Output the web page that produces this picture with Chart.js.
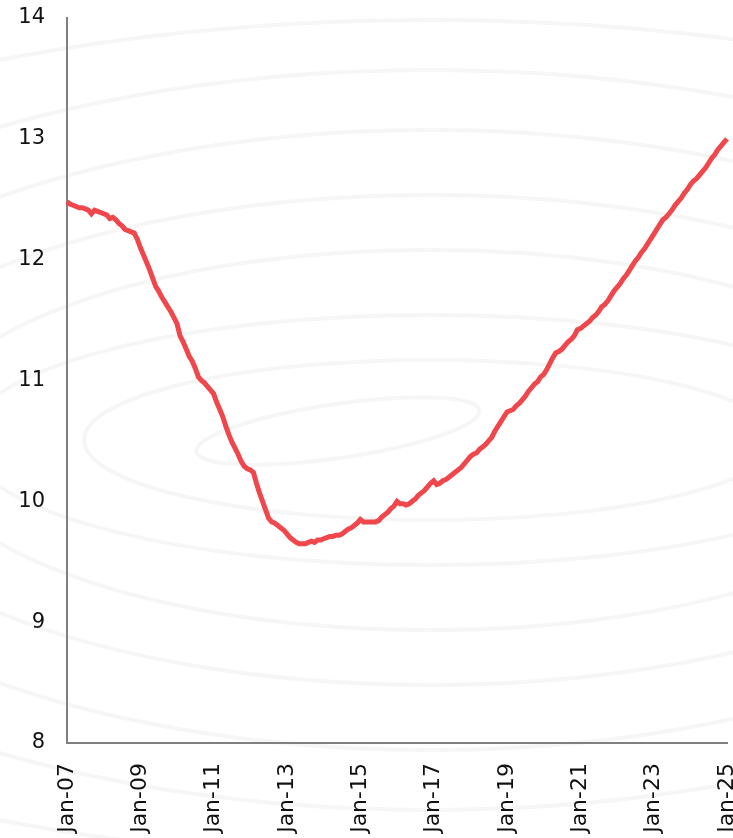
<!DOCTYPE html>
<html>
<head>
<meta charset="utf-8">
<script src="https://cdn.jsdelivr.net/npm/chart.js@4.4.1/dist/chart.umd.min.js"></script>
<style>
  html, body { margin: 0; padding: 0; background: #fff; }
  #wrap { width: 733px; height: 838px; position: relative; }
</style>
</head>
<body>
<div id="wrap"><canvas id="chart"></canvas></div>
<script>
// monthly series, Jan-07 .. Jan-25
var startYear = 2007;
var endYear = 2025;
var values = [
  12.48, 12.46, 12.45, 12.44, 12.43, 12.43, 12.42, 12.41, 12.38, 12.41, 12.40, 12.39,
  12.38, 12.37, 12.34, 12.35, 12.33, 12.30, 12.28, 12.25, 12.24, 12.23, 12.22, 12.17,
  12.10, 12.04, 11.98, 11.92, 11.85, 11.78, 11.74, 11.69, 11.65, 11.61, 11.57, 11.52,
  11.47, 11.37, 11.32, 11.26, 11.20, 11.16, 11.10, 11.03, 11.00, 10.98, 10.95, 10.92,
  10.89, 10.82, 10.76, 10.70, 10.62, 10.55, 10.49, 10.44, 10.39, 10.33, 10.29, 10.27,
  10.26, 10.24, 10.15, 10.07, 10.00, 9.93, 9.86, 9.83, 9.82, 9.80, 9.78, 9.76,
  9.73, 9.70, 9.68, 9.66, 9.65, 9.65, 9.65, 9.66, 9.67, 9.66, 9.68, 9.68,
  9.69, 9.70, 9.71, 9.71, 9.72, 9.72, 9.73, 9.75, 9.77, 9.78, 9.80, 9.82,
  9.85, 9.83, 9.83, 9.83, 9.83, 9.83, 9.84, 9.87, 9.89, 9.91, 9.94, 9.96,
  10.00, 9.98, 9.98, 9.97, 9.98, 10.00, 10.02, 10.05, 10.07, 10.09, 10.12, 10.15,
  10.17, 10.14, 10.15, 10.17, 10.18, 10.20, 10.22, 10.24, 10.26, 10.28, 10.31, 10.34,
  10.37, 10.39, 10.40, 10.43, 10.45, 10.47, 10.50, 10.53, 10.58, 10.62, 10.66, 10.70,
  10.74, 10.75, 10.76, 10.79, 10.81, 10.84, 10.87, 10.91, 10.94, 10.97, 10.99, 11.03,
  11.05, 11.09, 11.14, 11.19, 11.23, 11.24, 11.26, 11.29, 11.32, 11.34, 11.37, 11.42,
  11.43, 11.45, 11.47, 11.49, 11.52, 11.54, 11.57, 11.61, 11.63, 11.66, 11.70, 11.74,
  11.77, 11.80, 11.84, 11.87, 11.91, 11.95, 11.99, 12.02, 12.06, 12.09, 12.13, 12.17,
  12.21, 12.25, 12.29, 12.33, 12.35, 12.38, 12.41, 12.45, 12.48, 12.51, 12.55, 12.58,
  12.62, 12.65, 12.67, 12.70, 12.73, 12.76, 12.80, 12.84, 12.87, 12.91, 12.94, 12.97,
  13.00
];
var months = ["Jan", "Feb", "Mar", "Apr", "May", "Jun", "Jul", "Aug", "Sep", "Oct", "Nov", "Dec"];
var yMin = 8, yMax = 14, yStep = 1;
var labelEvery = 24; // a tick label every two years

var labels = [];
for (var y = startYear; y <= endYear; y++) {
  for (var m = 0; m < 12; m++) {
    if (y === endYear && m > 0) break;
    labels.push(months[m] + "-" + String(y % 100).padStart(2, "0"));
  }
}

var fontFam = "'Century Gothic', 'DejaVu Sans', sans-serif";

// faint decorative loops behind the plot (pure background, not data)
var rings = [[346, 80], [464, 125], [512, 190], [607, 245], [693, 310], [807, 370], [1011, 420]];
var backdrop = {
  id: 'backdrop',
  beforeDraw: function(chart) {
    var ctx = chart.ctx;
    ctx.save();
    ctx.strokeStyle = '#f6f6f6';
    ctx.lineWidth = 4;
    rings.forEach(function(r) {
      ctx.beginPath();
      ctx.ellipse(430, 440, r[0], r[1], 0, 0, Math.PI * 2);
      ctx.stroke();
    });
    ctx.beginPath();
    ctx.ellipse(338, 431, 143, 27, -0.144, 0, Math.PI * 2);
    ctx.stroke();
    ctx.restore();
  }
};

new Chart(document.getElementById("chart"), {
  type: 'line',
  data: {
    labels: labels,
    datasets: [{
      data: values,
      borderColor: '#ef474b',
      borderWidth: 5,
      pointRadius: 0,
      tension: 0,
      fill: false
    }]
  },
  plugins: [backdrop],
  options: {
    responsive: true,
    maintainAspectRatio: false,
    animation: false,
    layout: { padding: { top: 18, right: 6, left: 0, bottom: 0 } },
    plugins: {
      legend: { display: false },
      tooltip: { enabled: false }
    },
    scales: {
      x: {
        type: 'category',
        offset: false,
        grid: { display: false, drawTicks: false },
        border: { display: true, color: '#808080', width: 2 },
        ticks: {
          autoSkip: false,
          maxRotation: 90,
          minRotation: 90,
          padding: 20,
          color: '#111',
          font: { family: fontFam, size: 22 },
          callback: function(v, i) { return i % labelEvery === 0 ? labels[i] : null; }
        },
        afterFit: function(s) { s.height = 95; s.paddingLeft = 0; s.paddingRight = 0; }
      },
      y: {
        min: yMin,
        max: yMax,
        grid: { display: false, drawTicks: false },
        border: { display: true, color: '#808080', width: 2 },
        ticks: {
          stepSize: yStep,
          padding: 22,
          color: '#111',
          font: { family: fontFam, size: 21 }
        },
        afterFit: function(s) { s.width = 67; s.paddingTop = 0; s.paddingBottom = 0; }
      }
    }
  }
});
</script>
</body>
</html>
